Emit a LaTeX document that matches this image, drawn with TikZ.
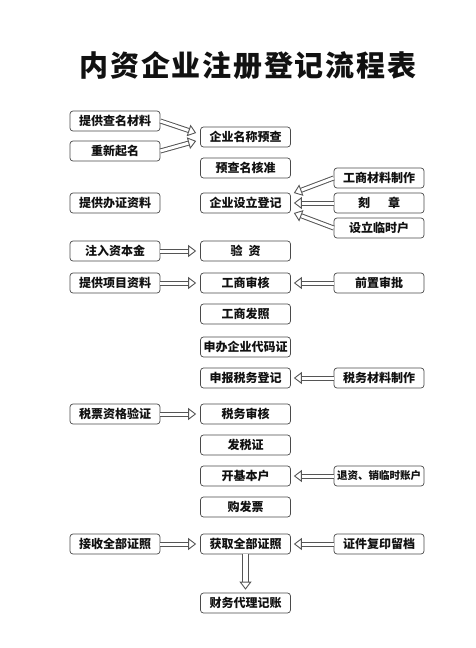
\documentclass[tikz,border=0pt]{standalone}
\usepackage{fontspec}
\usepackage{xcolor}
\usepackage{tikz}
\usetikzlibrary{arrows.meta}
\newfontfamily\cjk{Noto Sans CJK SC}
\newfontfamily\cjktitle[LetterSpace=6]{Noto Sans CJK SC}
\definecolor{rgLine}{HTML}{4A4A4A}
\definecolor{rgArrow}{HTML}{555555}
\definecolor{rgInk}{HTML}{111111}
\tikzset{
  rg diagram/.style={font=\cjk\bfseries, text=rgInk, line join=round},
  rg box/.style={draw=rgLine, fill=white, line width=0.7pt,
    rounded corners=3pt, minimum width=90pt, minimum height=20pt,
    inner sep=0pt, font=\cjk\bfseries\fontsize{12}{14}\selectfont},
  rg arrow/.style={draw=rgArrow, double, double distance=3pt, line width=1pt,
    -{Triangle[open, length=8pt, width=12pt, line width=0.9pt]}},
  rg title/.style={font=\cjktitle\bfseries\fontsize{29}{32}\selectfont}
}
\begin{document}
\begin{tikzpicture}[rg diagram, x=1pt, y=-1pt]
\useasboundingbox (0,0) rectangle (475,648);
\node[rg title] (title) at (248,66) {内资企业注册登记流程表};
% middle column
\node[rg box] (mcha) at (245.5,137) {企业名称预查};
\node[rg box] (mzhun) at (245.5,168) {预查名核准};
\node[rg box] (mdeng) at (245.5,203) {企业设立登记};
\node[rg box] (myan) at (245.5,251) {验\hspace{0.5em}资};
\node[rg box] (mshen) at (245.5,283) {工商审核};
\node[rg box] (mzhao) at (245.5,314) {工商发照};
\node[rg box] (mdai) at (245.5,347) {申办企业代码证};
\node[rg box] (mshui) at (245.5,378) {申报税务登记};
\node[rg box] (mshw) at (245.5,414) {税务审核};
\node[rg box] (mfa) at (245.5,445) {发税证};
\node[rg box] (mkai) at (245.5,476) {开基本户};
\node[rg box] (mgou) at (245.5,507) {购发票};
\node[rg box] (mhuo) at (245.5,544) {获取全部证照};
\node[rg box] (mcai) at (245.5,603) {财务代理记账};
% left column
\node[rg box] (lcha) at (115,121) {提供查名材料};
\node[rg box] (lqi) at (115,151) {重新起名};
\node[rg box] (lban) at (115,203) {提供办证资料};
\node[rg box] (lzhu) at (115,251) {注入资本金};
\node[rg box] (lxiang) at (115,283) {提供项目资料};
\node[rg box] (lpiao) at (115,414) {税票资格验证};
\node[rg box] (ljie) at (115,544) {接收全部证照};
% right column
\node[rg box] (rcai) at (379,178) {工商材料制作};
\node[rg box] (rke) at (379,203) {刻\hspace{1.5em}章};
\node[rg box] (rlin) at (379,228) {设立临时户};
\node[rg box] (rqian) at (379,283) {前置审批};
\node[rg box] (rshui) at (379,378) {税务材料制作};
\node[rg box, font=\cjk\bfseries\fontsize{10.5}{12}\selectfont] (rtui) at (379,476) {退资、销临时账户};
\node[rg box] (rfu) at (379,544) {证件复印留档};
% arrows
\draw[rg arrow] (lcha.east) -- ([xshift=-4pt, yshift=4pt]mcha.west);
\draw[rg arrow] (lqi.east) -- ([xshift=-4pt, yshift=-4pt]mcha.west);
\draw[rg arrow] (rcai.west) -- ([xshift=3pt, yshift=10pt]mdeng.east);
\draw[rg arrow] (rke.west) -- ([xshift=3pt]mdeng.east);
\draw[rg arrow] (rlin.west) -- ([xshift=3pt, yshift=-10pt]mdeng.east);
\draw[rg arrow] (lzhu.east) -- ([xshift=-4pt]myan.west);
\draw[rg arrow] (lxiang.east) -- ([xshift=-4pt]mshen.west);
\draw[rg arrow] (rqian.west) -- ([xshift=3pt]mshen.east);
\draw[rg arrow] (rshui.west) -- ([xshift=3pt]mshui.east);
\draw[rg arrow] (lpiao.east) -- ([xshift=-4pt]mshw.west);
\draw[rg arrow] (rtui.west) -- ([xshift=3pt]mkai.east);
\draw[rg arrow] (ljie.east) -- ([xshift=-4pt]mhuo.west);
\draw[rg arrow] (rfu.west) -- ([xshift=3pt]mhuo.east);
\draw[rg arrow, double distance=5pt] (mhuo.south) -- ([yshift=3pt]mcai.north);
\end{tikzpicture}
\end{document}
